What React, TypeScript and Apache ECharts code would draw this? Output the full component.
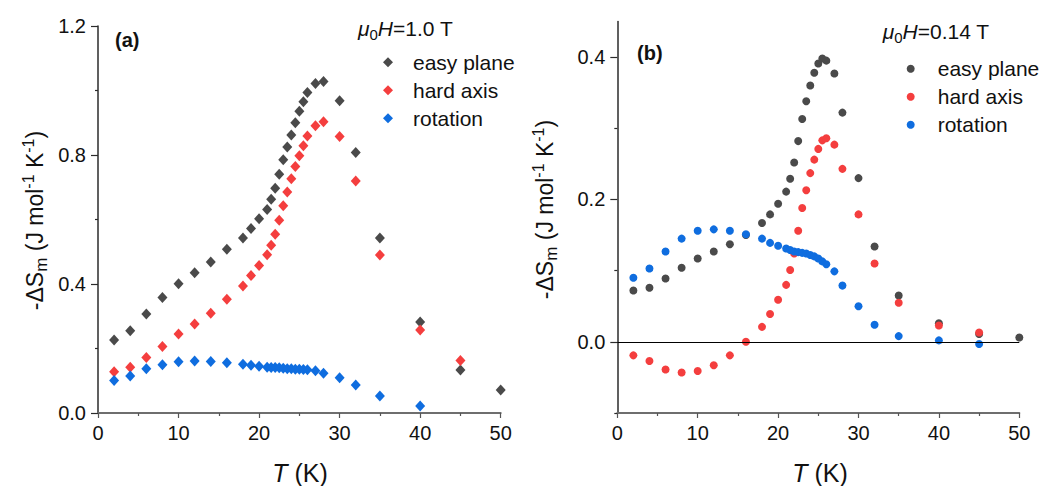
import React, { useEffect, useRef } from 'react';
import * as echarts from 'echarts';

// Temperatures (K) at which the entropy change was evaluated
const T_A = [2, 4, 6, 8, 10, 12, 14, 16, 18, 19, 20, 21, 21.5, 22, 22.5, 23, 23.5, 24, 24.5, 25, 25.5, 26, 27, 28, 30, 32, 35, 40, 45, 50];
const T_B = [2, 4, 6, 8, 10, 12, 14, 16, 18, 19, 20, 21, 21.5, 22, 22.5, 23, 23.5, 24, 24.5, 25, 25.5, 26, 27, 28, 30, 32, 35, 40, 45, 50];

// (a) mu0H = 1.0 T, -dS_m in J mol^-1 K^-1
const EASY_A = [0.226, 0.255, 0.307, 0.358, 0.401, 0.435, 0.468, 0.508, 0.543, 0.572, 0.602, 0.631, 0.663, 0.697, 0.740, 0.785, 0.825, 0.862, 0.900, 0.936, 0.965, 0.994, 1.022, 1.028, 0.968, 0.808, 0.543, 0.282, 0.133, 0.071];
const HARD_A = [0.128, 0.142, 0.172, 0.206, 0.245, 0.276, 0.309, 0.353, 0.394, 0.426, 0.457, 0.491, 0.520, 0.554, 0.598, 0.643, 0.685, 0.726, 0.764, 0.798, 0.829, 0.859, 0.891, 0.903, 0.857, 0.719, 0.490, 0.257, 0.163];
const ROT_A = [0.101, 0.115, 0.137, 0.150, 0.159, 0.161, 0.160, 0.156, 0.151, 0.148, 0.145, 0.142, 0.141, 0.141, 0.140, 0.139, 0.137, 0.137, 0.136, 0.136, 0.135, 0.134, 0.131, 0.123, 0.109, 0.087, 0.053, 0.022];

// (b) mu0H = 0.14 T
const EASY_B = [0.072, 0.076, 0.089, 0.104, 0.117, 0.127, 0.137, 0.150, 0.167, 0.179, 0.194, 0.211, 0.229, 0.252, 0.282, 0.313, 0.338, 0.360, 0.378, 0.391, 0.398, 0.395, 0.377, 0.322, 0.230, 0.134, 0.065, 0.026, 0.011, 0.006];
const HARD_B = [-0.019, -0.027, -0.039, -0.043, -0.041, -0.033, -0.019, 0.000, 0.021, 0.039, 0.059, 0.080, 0.101, 0.124, 0.156, 0.188, 0.213, 0.237, 0.256, 0.271, 0.283, 0.286, 0.277, 0.243, 0.179, 0.110, 0.055, 0.023, 0.013];
const ROT_B = [0.090, 0.103, 0.127, 0.145, 0.156, 0.158, 0.156, 0.151, 0.145, 0.139, 0.135, 0.131, 0.129, 0.127, 0.126, 0.125, 0.124, 0.122, 0.120, 0.117, 0.113, 0.109, 0.099, 0.079, 0.050, 0.024, 0.008, 0.002, -0.003];

const SERIES_NAMES = ['easy plane', 'hard axis', 'rotation'];
const Y_LABELS_B = [0, 0.2, 0.4];
const Y_MINOR_B = [-0.1, 0.1, 0.3];

const GRAY = '#4a4a4a';
const RED = '#f43e3e';
const BLUE = '#0f6ddf';
const FONT = '"Liberation Sans", Arial, sans-serif';

const pairs = (t: number[], v: number[]) => v.map((y, i) => [t[i], y]);

const xAxisFor = (gridIndex: number) => ({
  type: 'value',
  gridIndex,
  min: 0,
  max: 50,
  interval: 10,
  axisLine: { show: true, onZero: false, lineStyle: { color: '#6e6e6e', width: 2 } },
  axisTick: { show: true, inside: false, length: 5, lineStyle: { color: '#555', width: 1.2 } },
  minorTick: { show: true, splitNumber: 2, length: 3, lineStyle: { color: '#555', width: 1.2 } },
  axisLabel: { fontSize: 20, color: '#111', fontFamily: FONT, margin: 10 },
  splitLine: { show: false },
  minorSplitLine: { show: false },
});

const richScript = {
  s: { fontSize: 15, lineHeight: 15, verticalAlign: 'bottom', fontFamily: FONT, fill: '#111' },
  p: { fontSize: 15, lineHeight: 15, verticalAlign: 'top', fontFamily: FONT, fill: '#111' },
  i: { fontStyle: 'italic', fontFamily: FONT, fill: '#111' },
};

export default function App() {
  const ref = useRef<HTMLDivElement>(null);

  useEffect(() => {
    document.body.style.margin = '0';
    const chart = echarts.init(ref.current!, null, { renderer: 'svg' });

    const yName = (x: number, y: number) => ({
      type: 'text',
      x,
      y,
      rotation: Math.PI / 2,
      style: {
        text: '-ΔS{s|m} (J mol{p|-1} K{p|-1})',
        align: 'center',
        verticalAlign: 'middle',
        fontSize: 23,
        lineHeight: 30,
        fontFamily: FONT,
        fill: '#111',
        rich: {
          s: { ...richScript.s, fontSize: 17, lineHeight: 17 },
          p: { ...richScript.p, fontSize: 16, lineHeight: 16 },
        },
      },
    });

    const xName = (x: number) => ({
      type: 'text',
      x,
      y: 473,
      style: {
        text: '{i|T} (K)',
        align: 'center',
        verticalAlign: 'middle',
        fontSize: 25,
        fontFamily: FONT,
        fill: '#111',
        rich: { i: { ...richScript.i, fontSize: 25 } },
      },
    });

    const fieldTitle = (x: number, y: number, value: string) => ({
      type: 'text',
      x,
      y,
      style: {
        text: `{i|μ}{s|0}{i|H}=${value} T`,
        align: 'left',
        verticalAlign: 'middle',
        fontSize: 21,
        lineHeight: 26,
        fontFamily: FONT,
        fill: '#111',
        rich: {
          i: { ...richScript.i, fontSize: 21, lineHeight: 26 },
          s: { ...richScript.s, fontSize: 15, lineHeight: 15 },
        },
      },
    });

    const panelLabel = (x: number, y: number, text: string) => ({
      type: 'text',
      x,
      y,
      style: {
        text,
        align: 'left',
        verticalAlign: 'middle',
        fontSize: 20,
        fontWeight: 'bold',
        fontFamily: FONT,
        fill: '#111',
      },
    });

    const legendFor = (left: number, top: number, icon: string, size: number, pad: number) => ({
      left,
      top,
      orient: 'vertical',
      itemGap: 7,
      itemWidth: size,
      itemHeight: size,
      selectedMode: false,
      data: SERIES_NAMES.map((name) => ({ name, icon })),
      textStyle: { fontSize: 21, fontFamily: FONT, color: '#111', lineHeight: 20, padding: [0, 0, 0, pad] },
    });

    const scatterA = (name: string, color: string, values: number[]) => ({
      type: 'scatter',
      name,
      xAxisIndex: 0,
      yAxisIndex: 0,
      symbol: 'diamond',
      symbolSize: [10, 11],
      itemStyle: { color, opacity: 1 },
      data: pairs(T_A, values),
    });

    const scatterB = (name: string, color: string, values: number[]) => ({
      type: 'scatter',
      name,
      xAxisIndex: 1,
      yAxisIndex: 1,
      symbol: 'circle',
      symbolSize: 8,
      itemStyle: { color, opacity: 1 },
      data: pairs(T_B, values),
    });

    const option: any = {
      animation: false,
      backgroundColor: '#fff',
      textStyle: { fontFamily: FONT },
      grid: [
        { left: 98, top: 26, width: 402.7, height: 387 },
        { left: 617.3, top: 21.5, width: 402, height: 391.5 },
      ],
      xAxis: [xAxisFor(0), xAxisFor(1)],
      yAxis: [
        {
          type: 'value',
          gridIndex: 0,
          position: 'left',
          min: 0,
          max: 1.2,
          interval: 0.4,
          axisLine: { show: true, onZero: false, lineStyle: { color: '#2b2b2b', width: 1.5 } },
          axisTick: { show: true, length: 7, lineStyle: { color: '#2b2b2b', width: 1.2 } },
          minorTick: { show: true, splitNumber: 2, length: 3, lineStyle: { color: '#2b2b2b', width: 1.2 } },
          axisLabel: { fontSize: 20, color: '#111', fontFamily: FONT, margin: 12, formatter: (v: number) => v.toFixed(1) },
          splitLine: { show: false },
          minorSplitLine: { show: false },
        },
        {
          type: 'value',
          gridIndex: 1,
          position: 'left',
          min: -0.1,
          max: 0.45,
          axisLine: { show: true, onZero: false, lineStyle: { color: '#2b2b2b', width: 1.5 } },
          axisTick: { show: true, length: 7, customValues: Y_LABELS_B, lineStyle: { color: '#2b2b2b', width: 1.2 } },
          axisLabel: {
            fontSize: 20,
            color: '#111',
            fontFamily: FONT,
            margin: 12,
            customValues: Y_LABELS_B,
            formatter: (v: number) => v.toFixed(1),
          },
          splitLine: { show: false },
        },
        {
          // minor ticks of panel (b), on the same left edge
          type: 'value',
          gridIndex: 1,
          position: 'left',
          offset: 0,
          min: -0.1,
          max: 0.45,
          axisLine: { show: false, onZero: false },
          axisTick: { show: true, length: 3, customValues: Y_MINOR_B, lineStyle: { color: '#2b2b2b', width: 1.2 } },
          axisLabel: { show: false },
          splitLine: { show: false },
        },
      ],
      legend: [
        legendFor(378, 46.7, 'diamond', 10, 15),
        legendFor(901.7, 53.3, 'circle', 8, 18),
      ],
      series: [
        scatterA(SERIES_NAMES[0], GRAY, EASY_A),
        scatterA(SERIES_NAMES[1], RED, HARD_A),
        scatterA(SERIES_NAMES[2], BLUE, ROT_A),
        {
          ...scatterB(SERIES_NAMES[0], GRAY, EASY_B),
          markLine: {
            silent: true,
            symbol: ['none', 'none'],
            label: { show: false },
            lineStyle: { color: '#000', width: 1, type: 'solid' },
            data: [{ yAxis: 0 }],
          },
        },
        scatterB(SERIES_NAMES[1], RED, HARD_B),
        scatterB(SERIES_NAMES[2], BLUE, ROT_B),
      ],
      graphic: [
        panelLabel(115, 40, '(a)'),
        panelLabel(637, 53, '(b)'),
        fieldTitle(358, 28.5, '1.0'),
        fieldTitle(882.7, 31.7, '0.14'),
        yName(35, 220.5),
        yName(545, 209.5),
        xName(300),
        xName(820),
      ],
    };

    chart.setOption(option);
    return () => chart.dispose();
  }, []);

  return <div ref={ref} style={{ width: 1043, height: 486 }} />;
}
